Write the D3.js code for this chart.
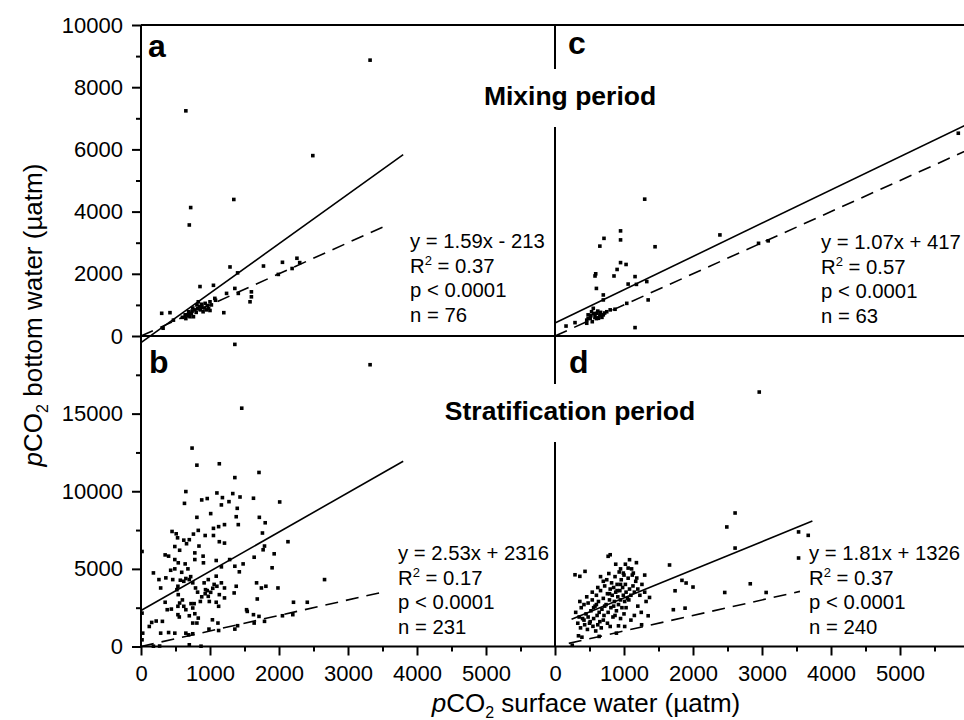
<!DOCTYPE html>
<meta charset="utf-8">
<script src="https://d3js.org/d3.v7.min.js"></script>
<style>
  body { margin: 0; background: #fff; }
  svg text { font-family: Arial, "Liberation Sans", sans-serif; fill: #000; }
</style>
<div id="chart"></div>
<script>

// ---- data (x = pCO2 surface, y = pCO2 bottom, µatm) ----
var xTicks = [0, 1000, 2000, 3000, 4000, 5000];
var xMinor = [500, 1500, 2500, 3500, 4500, 5500];
var yTicksTop = [0, 2000, 4000, 6000, 8000, 10000];
var yMinorTop = [1000, 3000, 5000, 7000, 9000];
var yTicksBottom = [0, 5000, 10000, 15000];
var yMinorBottom = [2500, 7500, 12500, 17500];

// a: mixing period, site 1
var pointsA = [
  [3320,8870],[650,7240],[2490,5800],[1345,4390],[720,4130],[700,3570],
  [1290,2220],[1400,2030],[1775,2250],[2050,2370],[2300,2360],[2190,2170],[1990,1980],[2260,2500],
  [855,1590],[1050,1630],[1240,1370],[1360,1530],[1410,1370],[1600,1420],[1600,1260],[1580,1100],
  [1200,750],[1070,1210],[1080,1150],
  [640,680],[690,780],[730,730],[780,840],[810,1000],[830,1100],[880,940],[930,1050],[950,840],
  [900,780],[860,840],[760,620],[660,680],[710,620],[1000,1100],[980,890],
  [600,600],[650,560],[700,700],[750,900],[800,760],[850,950],[920,900],[960,980],[1020,1000],
  [740,800],[690,650],[880,1020],[1000,820],[820,880],
  [300,730],[420,750],[470,510],[320,250]
];
// c: mixing period, site 2
var pointsC = [
  [5845,6520],[1300,4400],[2390,3250],[2950,2980],[3090,3060],
  [950,3380],[950,3090],[710,3140],[650,2890],[1450,2870],
  [950,2360],[1030,2300],[900,2140],[855,1930],[580,1930],[590,2000],[1160,1910],[1330,1750],
  [1060,1670],[1180,1660],[600,1530],[700,1320],[700,1160],[1350,1160],[1160,270],[160,320],[290,430],
  [460,510],[480,680],[530,780],[580,620],[600,730],[650,680],[750,780],[800,840],[870,860],
  [510,570],[555,890],[630,570],[700,680],[460,410],[1040,1050],
  [520,650],[560,720],[620,800],[680,600],[720,740],[480,560],[600,560],[540,460],[660,760]
];
// b: stratification period, site 1
var pointsB = [
  [1360,19460],[3320,18150],[1460,15350],[740,12780],[810,11680],[1135,11770],[1710,11210],[1360,10880],
  [650,9980],[630,9220],[880,9440],[960,9530],[1100,9890],[1180,9590],[1330,9850],[1435,9630],
  [1275,9330],[1165,9120],[1395,8900],[1630,9550],[2010,9310],[1010,8560],[810,8320],[1380,8360],
  [1715,8320],[1800,7970],[1410,7850],[1210,7850],[1125,7720],[1050,7610],[450,7410],[830,7480],
  [760,7240],[700,6880],[620,6850],[530,7000],[510,7260],[930,7150],[1050,7150],[1135,6750],
  [1210,6660],[1760,7310],[2130,6750],[1790,6470],[1770,6230],[1640,5750],[1930,5970],[1900,5070],
  [1480,5320],[1360,5170],[1425,4810],[1285,5600],[1090,5540],[1165,5130],[900,5820],[905,5390],
  [780,5600],[780,6030],[840,6470],[660,6620],[490,6440],[350,5900],[400,5820],[490,5600],
  [540,5390],[640,5320],[430,4910],[490,5000],[590,4780],[180,4740],[15,6120],[260,4310],
  [360,4420],[460,4310],[285,3770],[535,3880],[700,4310],[570,4270],[650,4380],[750,4100],
  [790,3770],[975,4310],[1090,4530],[915,4100],[935,3660],[975,3230],[1040,3750],[1100,3880],
  [1165,4100],[1210,3770],[1135,3340],[1090,2850],[1010,3490],[1210,3130],[1350,3450],[1380,3880],
  [1125,2590],[1035,1720],[1115,1510],[985,1120],[540,3340],[520,3660],[350,2850],[380,2370],
  [440,2410],[535,2590],[535,2050],[650,2370],[620,2590],[725,2760],[750,2480],[770,2760],
  [700,1980],[750,1510],[780,2110],[830,1830],[810,1510],[690,750],[650,860],[750,820],
  [555,1900],[400,900],[490,860],[285,860],[310,1620],[220,1640],[155,1550],[120,1290],
  [15,2150],[25,860],[15,430],[180,20],[270,30],[700,110],[870,20],
  [1530,2370],[1540,2260],[1630,2050],[1710,1940],[1685,3060],[1675,4100],[1745,3770],[1810,3880],
  [1985,3770],[2210,2850],[2410,2850],[2660,4310],[2050,1980],[2200,2050],[1360,1120],[1400,1340],
  [1640,1510],[1790,1620],[1125,1030],[930,3400],[960,3600],[880,3200],[990,2900],[1060,4000],
  [620,4200],[600,3000],[560,2800],[720,4500],[820,3500],[860,2900],[680,5000],[560,6200]
];
// d: stratification period, site 2
var pointsD = [
  [2960,16390],[2610,8600],[2490,7700],[2610,6340],[3530,7380],[3670,7160],[3530,5700],
  [1660,5250],[2830,4040],[2460,3480],[3060,3480],[1840,4260],[1900,4090],[2000,3830],
  [1740,3590],[1370,3160],[1350,1980],[1715,2370],[1885,2470],[1255,1400],
  [1080,5590],[800,5910],[770,5810],[290,4620],[360,4520],[435,4840],[1060,5050],[1135,4730],
  [1185,4410],[990,4730],[340,690],[390,600],[640,650],[800,1290],[920,1330],[1010,1290],[890,860],
  [300,2200],[350,1900],[380,2500],[420,1700],[450,2100],[480,2800],[500,1500],[520,2300],
  [540,3000],[560,1800],[580,2600],[600,3300],[610,2000],[630,2900],[650,1600],[660,3600],
  [680,2400],[700,3100],[710,2000],[720,3900],[740,2700],[750,4300],[760,3400],[770,2200],
  [780,4700],[790,3000],[800,3700],[810,2500],[820,4100],[830,3300],[840,1900],[850,3800],
  [860,2900],[870,4500],[880,3500],[890,2300],[900,4000],[910,3200],[920,2700],[930,4800],
  [940,3600],[950,3000],[960,4300],[970,2500],[980,3800],[990,3300],[1000,4600],[1010,2900],
  [1020,4000],[1030,3500],[1050,3100],[1060,4400],[1080,3700],[1100,3300],[1110,5000],[1130,3900],
  [1150,3500],[1170,4200],[1200,3700],[1230,3300],[1260,4000],[1300,3500],
  [330,1500],[370,1200],[400,1800],[430,1400],[470,1100],[510,1600],[550,1300],[590,1000],
  [620,1400],[670,1200],[700,1700],[640,2200],[560,2500],[480,1900],[420,2700],[360,2900],
  [460,3200],[540,3500],[620,3800],[700,4200],[660,4500],[880,5300],[950,5000],[1020,5300],
  [250,80],[600,2700],[720,2600],[790,3400],[850,2600],[900,3600],[950,4000],[1070,3000],[1120,4600],
  [1200,2600],[1250,2200],[1150,2000],[1300,4600],[1180,5400],[1320,2900],[1100,1700],[1000,2100],
  [950,1800],[1030,2500],[870,2000],[760,1500]
];

// regression fits [slope, intercept, xStart, xEnd] and 1:1 line [xStart, xEnd]
var fitA = [1.59, -213, 0, 3800],  oneA = [0, 3500];
var fitC = [1.07, 417, 0, 6000],   oneC = [0, 6000];
var fitB = [2.53, 2316, 0, 3800],  oneB = [0, 3500];
var fitD = [1.81, 1326, 240, 3730], oneD = [200, 3550];

var statsA = ["y = 1.59x - 213", "0.37", "p < 0.0001", "n = 76"];
var statsC = ["y = 1.07x + 417", "0.57", "p < 0.0001", "n = 63"];
var statsB = ["y = 2.53x + 2316", "0.17", "p < 0.0001", "n = 231"];
var statsD = ["y = 1.81x + 1326", "0.37", "p < 0.0001", "n = 240"];

// ---- layout ----
var W = 964, H = 720;
var svg = d3.select("#chart").append("svg")
  .attr("width", W).attr("height", H);

var xLeft = d3.scaleLinear().domain([0, 6000]).range([141, 555]);
var xRight = d3.scaleLinear().domain([0, 6000]).range([555, 969]);
var yTop = d3.scaleLinear().domain([0, 10000]).range([336, 25]);
var yBot = d3.scaleLinear().domain([0, 20000]).range([646.5, 336]);

var panels = [
  {id: "a", x: xLeft,  y: yTop, pts: pointsA, fit: fitA, one: oneA, stats: statsA, sx: 410, sy: 248, lx: 148, ly: 57},
  {id: "c", x: xRight, y: yTop, pts: pointsC, fit: fitC, one: oneC, stats: statsC, sx: 821, sy: 249, lx: 568, ly: 54},
  {id: "b", x: xLeft,  y: yBot, pts: pointsB, fit: fitB, one: oneB, stats: statsB, sx: 398, sy: 560, lx: 149, ly: 373},
  {id: "d", x: xRight, y: yBot, pts: pointsD, fit: fitD, one: oneD, stats: statsD, sx: 809, sy: 560, lx: 569, ly: 373}
];

// frame lines
var frame = svg.append("g").attr("stroke", "#000").attr("stroke-width", 2);
frame.append("line").attr("x1", 141).attr("x2", W).attr("y1", 25).attr("y2", 25);
frame.append("line").attr("x1", 141).attr("x2", W).attr("y1", 336).attr("y2", 336);
frame.append("line").attr("x1", 141).attr("x2", W).attr("y1", 646.5).attr("y2", 646.5);
frame.append("line").attr("x1", 141).attr("x2", 141).attr("y1", 25).attr("y2", 646.5);
frame.append("line").attr("x1", 555).attr("x2", 555).attr("y1", 25).attr("y2", 646.5);

// y axes (left column only)
function yAxisG(scale, major, minor) {
  var g = svg.append("g").attr("transform", "translate(141,0)");
  g.call(d3.axisLeft(scale).tickValues(major).tickSize(9).tickPadding(9)
    .tickFormat(d3.format("d")));
  svg.append("g").attr("transform", "translate(141,0)")
    .call(d3.axisLeft(scale).tickValues(minor).tickSize(5).tickFormat(""))
    .select(".domain").remove();
  g.select(".domain").remove();
}
yAxisG(yTop, yTicksTop, yMinorTop);
yAxisG(yBot, yTicksBottom, yMinorBottom);

// x axes along the bottom
[xLeft, xRight].forEach(function(sc) {
  var g = svg.append("g").attr("transform", "translate(0,646.5)");
  g.call(d3.axisBottom(sc).tickValues(xTicks).tickSize(9).tickPadding(10)
    .tickFormat(d3.format("d")));
  g.select(".domain").remove();
  var m = svg.append("g").attr("transform", "translate(0,646.5)");
  m.call(d3.axisBottom(sc).tickValues(xMinor).tickSize(5).tickFormat(""));
  m.select(".domain").remove();
});

svg.selectAll(".tick line").attr("stroke", "#000").attr("stroke-width", 2);
svg.selectAll(".tick text").attr("font-size", 22).attr("fill", "#000")
  .style("font-family", "Arial, 'Liberation Sans', sans-serif");

// panel contents
panels.forEach(function(p) {
  var g = svg.append("g");

  // 1:1 dashed line
  g.append("line")
    .attr("x1", p.x(p.one[0])).attr("y1", p.y(p.one[0]))
    .attr("x2", p.x(p.one[1])).attr("y2", p.y(p.one[1]))
    .attr("stroke", "#000").attr("stroke-width", 1.6)
    .attr("stroke-dasharray", "13,8");

  // regression line
  g.append("line")
    .attr("x1", p.x(p.fit[2])).attr("y1", p.y(p.fit[0] * p.fit[2] + p.fit[1]))
    .attr("x2", p.x(p.fit[3])).attr("y2", p.y(p.fit[0] * p.fit[3] + p.fit[1]))
    .attr("stroke", "#000").attr("stroke-width", 1.6);

  // points
  g.selectAll("rect.pt").data(p.pts).enter().append("rect")
    .attr("class", "pt")
    .attr("x", function(d) { return p.x(d[0]) - 1.8; })
    .attr("y", function(d) { return p.y(d[1]) - 1.8; })
    .attr("width", 3.6).attr("height", 3.6)
    .attr("fill", "#000");

  // panel letter
  g.append("text").attr("x", p.lx).attr("y", p.ly)
    .attr("font-size", 32).attr("font-weight", "bold").text(p.id);

  // statistics
  var st = g.append("g").attr("font-size", 20.3);
  st.append("text").attr("x", p.sx).attr("y", p.sy).text(p.stats[0]);
  var r = st.append("text").attr("x", p.sx).attr("y", p.sy + 24.7);
  r.append("tspan").text("R");
  r.append("tspan").attr("font-size", 13).attr("dy", -8).text("2");
  r.append("tspan").attr("dy", 8).text(" = " + p.stats[1]);
  st.append("text").attr("x", p.sx).attr("y", p.sy + 49.4).text(p.stats[2]);
  st.append("text").attr("x", p.sx).attr("y", p.sy + 74.1).text(p.stats[3]);
});

// period titles with white background over the divider
[["Mixing period", 105], ["Stratification period", 420]].forEach(function(t) {
  var g = svg.append("g");
  var bg = g.append("rect").attr("fill", "#fff");
  var txt = g.append("text").attr("x", 570).attr("y", t[1])
    .attr("text-anchor", "middle").attr("font-size", 26.5).attr("font-weight", "bold")
    .text(t[0]);
  var bb = txt.node().getBBox();
  bg.attr("x", bb.x - 4).attr("width", bb.width + 8)
    .attr("y", t[1] - 36).attr("height", 58);
});

// axis titles
var yt = svg.append("text")
  .attr("transform", "translate(42,315) rotate(-90)")
  .attr("text-anchor", "middle").attr("font-size", 26);
yt.append("tspan").attr("font-style", "italic").text("p");
yt.append("tspan").text("CO");
yt.append("tspan").attr("font-size", 16).attr("dy", 6).text("2");
yt.append("tspan").attr("dy", -6).text(" bottom water (\u00b5atm)");

var xt = svg.append("text")
  .attr("x", 586).attr("y", 712)
  .attr("text-anchor", "middle").attr("font-size", 26);
xt.append("tspan").attr("font-style", "italic").text("p");
xt.append("tspan").text("CO");
xt.append("tspan").attr("font-size", 16).attr("dy", 6).text("2");
xt.append("tspan").attr("dy", -6).text(" surface water (\u00b5atm)");

</script>
